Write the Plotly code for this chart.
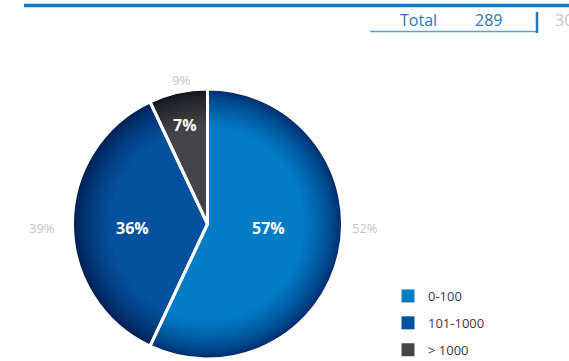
import plotly.graph_objects as go

# Size classes and their shares (current year) and prior-year shares
categories = ["0-100", "101-1000", "> 1000"]
share_current = [57, 36, 7]
share_prior = [52, 39, 9]
total_label = "Total"
total_current = 289
total_prior_text = "30"

# Slice colours: flat interior tone and darker rim tone
flat_colors = [(2, 124, 198), (4, 82, 158), (68, 68, 72)]
rim_colors = [(0, 38, 102), (0, 26, 78), (14, 16, 26)]

W, H = 569, 361
cx, cy, R = 207.5, 224.0, 135.0
FONT = "Open Sans"


def mix(c1, c2, t):
    return "rgb(%d,%d,%d)" % tuple(round(a + (b - a) * t) for a, b in zip(c1, c2))


def domain(r):
    return dict(x=[(cx - r) / W, (cx + r) / W], y=[1 - (cy + r) / H, 1 - (cy - r) / H])


fig = go.Figure()

# Radial shading: concentric pies from the dark rim towards the flat interior
n_layers = 20
band = 38.0
for k in range(n_layers + 1):
    t = k / n_layers
    r = R - band * t
    w = t ** 0.65
    cols = [mix(rc, fc, w) for rc, fc in zip(rim_colors, flat_colors)]
    fig.add_trace(go.Pie(
        labels=categories, values=share_current, sort=False,
        direction="clockwise", rotation=0,
        marker=dict(colors=cols, line=dict(width=0)),
        textinfo="none", hoverinfo="skip", showlegend=False,
        domain=domain(r),
    ))

# Top layer: white separators between the slices
fig.add_trace(go.Pie(
    labels=categories, values=share_current, sort=False,
    direction="clockwise", rotation=0,
    marker=dict(colors=["rgba(0,0,0,0)"] * 3, line=dict(color="white", width=3)),
    textinfo="none", hoverinfo="skip", showlegend=False,
    domain=domain(R),
))

# Legend entries
for cat, fc in zip(categories, flat_colors):
    fig.add_trace(go.Scatter(
        x=[None], y=[None], mode="markers", name=cat, legendgroup=cat,
        marker=dict(symbol="square", size=13, color="rgb(%d,%d,%d)" % fc),
    ))

# Current-year percentages inside the slices
inner_pos = [(268, 228), (132, 228), (184.5, 125)]
for val, (px, py) in zip(share_current, inner_pos):
    fig.add_annotation(
        x=px / W, y=1 - py / H, xref="paper", yref="paper",
        xanchor="center", yanchor="middle",
        text=f"{val}%", showarrow=False,
        font=dict(family=FONT, size=16, color="white", weight="bold"),
    )

# Prior-year shares beside each slice
prior_pos = [(365, 228), (42, 228), (181, 80)]
for val, (px, py) in zip(share_prior, prior_pos):
    fig.add_annotation(
        x=px / W, y=1 - py / H, xref="paper", yref="paper",
        xanchor="center", yanchor="middle",
        text=f"{val}%", showarrow=False,
        font=dict(family=FONT, size=13, color="#c6c6c6"),
    )

# Totals row of the table above
row_y = 1 - 20 / H
fig.add_annotation(x=439 / W, y=row_y, xref="paper", yref="paper", xanchor="right", yanchor="middle",
                   text=total_label, showarrow=False,
                   font=dict(family=FONT, size=16, color="#1f78c1"))
fig.add_annotation(x=504 / W, y=row_y, xref="paper", yref="paper", xanchor="right", yanchor="middle",
                   text=str(total_current), showarrow=False,
                   font=dict(family=FONT, size=16, color="#1f78c1"))
fig.add_annotation(x=553 / W, y=row_y, xref="paper", yref="paper", xanchor="left", yanchor="middle",
                   text=total_prior_text, showarrow=False,
                   font=dict(family=FONT, size=16, color="#c6c6c6"))

shapes = [
    dict(type="line", xref="paper", yref="paper", x0=24 / W, x1=1, y0=1 - 5.5 / H, y1=1 - 5.5 / H,
         line=dict(color="#0a7bc6", width=3.5)),
    dict(type="line", xref="paper", yref="paper", x0=370 / W, x1=537 / W, y0=1 - 31.5 / H, y1=1 - 31.5 / H,
         line=dict(color="#5b9fd6", width=1.5)),
    dict(type="line", xref="paper", yref="paper", x0=537 / W, x1=537 / W, y0=1 - 12 / H, y1=1 - 33 / H,
         line=dict(color="#1f78c1", width=2.5)),
]

fig.update_layout(
    width=W, height=H, margin=dict(l=0, r=0, t=0, b=0, autoexpand=False),
    paper_bgcolor="white", plot_bgcolor="white",
    xaxis=dict(visible=False), yaxis=dict(visible=False),
    shapes=shapes,
    legend=dict(x=388 / W, y=1 - 281 / H, xanchor="left", yanchor="top",
                font=dict(family=FONT, size=13, color="#3a3a3a"),
                tracegroupgap=7, itemclick=False, itemdoubleclick=False,
                bgcolor="rgba(0,0,0,0)"),
    showlegend=True,
)

fig.write_html("out.html")
